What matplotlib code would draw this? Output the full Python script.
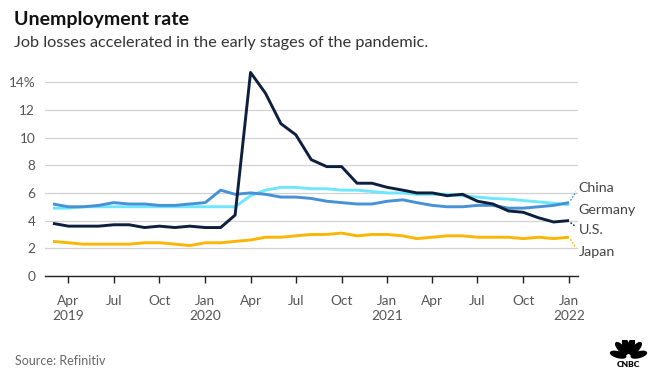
import matplotlib
matplotlib.use("Agg")
import matplotlib.pyplot as plt
from matplotlib.patches import Ellipse
import numpy as np
import pandas as pd

# ---------------- data ----------------
months = pd.date_range("2019-03-01", "2022-01-01", freq="MS")

us = [3.8, 3.6, 3.6, 3.6, 3.7, 3.7, 3.5, 3.6, 3.5, 3.6,
      3.5, 3.5, 4.4, 14.7, 13.2, 11.0, 10.2, 8.4, 7.9, 7.9, 6.7, 6.7,
      6.4, 6.2, 6.0, 6.0, 5.8, 5.9, 5.4, 5.2, 4.7, 4.6, 4.2, 3.9,
      4.0]
china = [5.2, 5.0, 5.0, 5.1, 5.3, 5.2, 5.2, 5.1, 5.1, 5.2,
         5.3, 6.2, 5.9, 6.0, 5.9, 5.7, 5.7, 5.6, 5.4, 5.3, 5.2, 5.2,
         5.4, 5.5, 5.3, 5.1, 5.0, 5.0, 5.1, 5.1, 4.9, 4.9, 5.0, 5.1,
         5.3]
germany = [4.9, 4.9, 5.0, 5.0, 5.0, 5.0, 5.0, 5.0, 5.0, 5.0,
           5.0, 5.0, 5.0, 5.8, 6.2, 6.4, 6.4, 6.3, 6.3, 6.2, 6.2, 6.1,
           6.0, 6.0, 5.9, 5.9, 5.9, 5.8, 5.7, 5.6, 5.55, 5.45, 5.35, 5.25,
           5.15]
japan = [2.5, 2.4, 2.3, 2.3, 2.3, 2.3, 2.4, 2.4, 2.3, 2.2,
         2.4, 2.4, 2.5, 2.6, 2.8, 2.8, 2.9, 3.0, 3.0, 3.1, 2.9, 3.0,
         3.0, 2.9, 2.7, 2.8, 2.9, 2.9, 2.8, 2.8, 2.8, 2.7, 2.8, 2.7,
         2.8]

series_names = ["China", "Germany", "U.S.", "Japan"]
label_values = [6.33, 4.8, 3.3, 1.76]
y_ticks = [0, 2, 4, 6, 8, 10, 12, 14]
y_tick_labels = ["0", "2", "4", "6", "8", "10", "12", "14%"]

# ---------------- style ----------------
plt.rcParams["font.family"] = ["Lato", "DejaVu Sans"]
C_US = "#0c1f3d"
C_CHINA = "#4791d6"
C_GER = "#6ee6fb"
C_JP = "#fbb604"
GRID = "#d2d2d2"
TXT = "#555555"

fig = plt.figure(figsize=(6.64, 3.79), dpi=100)
W, H = 664, 379
ax_l, ax_r, ax_b, ax_t = 45, 578, 276, 68.3
ax = fig.add_axes([ax_l / W, 1 - ax_b / H, (ax_r - ax_l) / W, (ax_b - ax_t) / H])

lw = 2.1
ax.plot(months, japan, color=C_JP, lw=lw, solid_capstyle="butt", zorder=3)
ax.plot(months, germany, color=C_GER, lw=lw, solid_capstyle="butt", zorder=3)
ax.plot(months, china, color=C_CHINA, lw=lw, solid_capstyle="butt", zorder=4)
ax.plot(months, us, color=C_US, lw=lw, solid_capstyle="butt", zorder=5)

ax.set_ylim(0, 15)
ax.set_xlim(pd.Timestamp("2019-02-13"), pd.Timestamp("2022-01-19"))

for s in ["top", "right", "left"]:
    ax.spines[s].set_visible(False)
ax.spines["bottom"].set_color("#222222")
ax.spines["bottom"].set_linewidth(1.0)
ax.spines["bottom"].set_zorder(6)

ax.set_yticks(y_ticks)
ax.set_yticklabels(y_tick_labels)
ax.tick_params(axis="y", length=0, pad=7, labelsize=9.8, labelcolor=TXT)
ax.yaxis.grid(True, color=GRID, lw=0.9)
ax.set_axisbelow(True)

tick_dates = pd.date_range("2019-04-01", "2022-01-01", freq="QS-JAN")
tick_labels = []
for d in tick_dates:
    m = d.strftime("%b")
    tick_labels.append(f"{m}\n{d.year}" if (d.month == 1 or d == tick_dates[0]) else m)
ax.set_xticks(tick_dates)
ax.set_xticklabels(tick_labels, linespacing=1.3)
ax.tick_params(axis="x", length=5, width=1.0, color="#222222", pad=9,
               labelsize=9.8, labelcolor=TXT)

# series end labels with leader lines
last = months[-1]
colors = [C_CHINA, C_GER, C_US, C_JP]
ends = [china[-1], germany[-1], us[-1], japan[-1]]
x_text = last + pd.Timedelta(days=19)
for name, yv, col, ev in zip(series_names, label_values, colors, ends):
    ax.text(x_text, yv, name, ha="left", va="center", fontsize=10.3,
            color="#444444", clip_on=False)
    if name != "Germany":
        y0 = ev + (0.15 if yv > ev else -0.15)
        y1 = yv + (-0.25 if yv > ev else 0.25)
        ax.plot([last + pd.Timedelta(days=3), last + pd.Timedelta(days=14)],
                [y0, y1], color=col, lw=1.0, ls=(0, (1.2, 1.2)), clip_on=False)

# titles
fig.text(14 / W, 1 - 19 / H, "Unemployment rate", fontsize=14, fontweight="bold",
         color="#111111", ha="left", va="center")
fig.text(14 / W, 1 - 43 / H, "Job losses accelerated in the early stages of the pandemic.",
         fontsize=11.7, color="#333333", ha="left", va="center")
fig.text(15 / W, 1 - 361 / H, "Source: Refinitiv", fontsize=9, color="#666666",
         ha="left", va="center")

# CNBC peacock logo (approximate)
lax = fig.add_axes([609 / W, 1 - 368 / H, 39 / W, 28 / H])
lax.set_xlim(-1.25, 1.25)
lax.set_ylim(-0.8, 1.0)
lax.axis("off")
for ang in [165, 132, 104, 76, 48, 15]:
    a = np.deg2rad(ang)
    r = 0.55
    cx, cy = r * np.cos(a) * 1.25, -0.15 + r * np.sin(a) * 1.45
    lax.add_patch(Ellipse((cx, cy), 0.36, 1.0, angle=ang - 90, color="black"))
lax.text(0, -0.58, "CNBC", ha="center", va="center", fontsize=6,
         fontweight="heavy", color="black")

fig.savefig("out.png", dpi=100)
